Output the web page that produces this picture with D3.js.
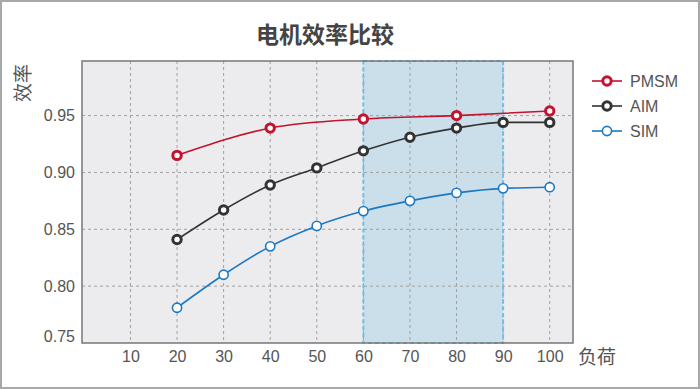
<!DOCTYPE html>
<html>
<head>
<meta charset="utf-8">
<script src="https://cdn.jsdelivr.net/npm/d3@7"></script>
<style>
  body { margin: 0; background: #fff; }
  svg { display: block; font-family: "Liberation Sans", Arial, sans-serif; }
  .tick text { fill: #555; }
  .grid line { stroke: #a0a0a0; stroke-dasharray: 3,3; }
</style>
</head>
<body>
<div id="chart"></div>
<script>
var loads = [10, 20, 30, 40, 50, 60, 70, 80, 90, 100];
var yTicks = [0.75, 0.80, 0.85, 0.90, 0.95];

var pmsmLoad = [20, 40, 60, 80, 100];
var pmsmEff = [0.915, 0.939, 0.947, 0.950, 0.954];
var aimLoad = [20, 30, 40, 50, 60, 70, 80, 90, 100];
var aimEff = [0.841, 0.867, 0.889, 0.904, 0.919, 0.931, 0.939, 0.944, 0.944];
var simLoad = [20, 30, 40, 50, 60, 70, 80, 90, 100];
var simEff = [0.781, 0.810, 0.835, 0.853, 0.866, 0.875, 0.882, 0.886, 0.887];

var band = [60, 90];

var series = [
  {name: "PMSM", load: pmsmLoad, eff: pmsmEff, color: "#c4122f", sw: 3},
  {name: "AIM", load: aimLoad, eff: aimEff, color: "#333333", sw: 3},
  {name: "SIM", load: simLoad, eff: simEff, color: "#1c78c4", sw: 1.6}
];

var width = 700, height = 389;
var plotL = 82, plotR = 573, plotT = 61, plotB = 343;

var svg = d3.select("#chart").append("svg").attr("width", width).attr("height", height);

// outer frame
svg.append("rect")
  .attr("x", 1).attr("y", 1).attr("width", width - 2).attr("height", height - 2)
  .attr("fill", "#fff").attr("stroke", "#a8a8a8").attr("stroke-width", 2);

var x = d3.scaleLinear().domain([-0.4, 105]).range([plotL, plotR]);
var y = d3.scaleLinear().domain([0.75, 0.998]).range([plotB, plotT]);

svg.append("rect")
  .attr("x", plotL).attr("y", plotT).attr("width", plotR - plotL).attr("height", plotB - plotT)
  .attr("fill", "#ececee");

// highlighted load range
svg.append("rect")
  .attr("x", x(band[0])).attr("y", plotT)
  .attr("width", x(band[1]) - x(band[0])).attr("height", plotB - plotT)
  .attr("fill", "#cadfe9");

// grid
svg.append("g").attr("class", "grid")
  .selectAll("line").data(loads).enter().append("line")
  .attr("x1", function(d) { return x(d); }).attr("x2", function(d) { return x(d); })
  .attr("y1", plotT).attr("y2", plotB);

svg.append("g").attr("class", "grid")
  .selectAll("line").data(yTicks.slice(1)).enter().append("line")
  .attr("x1", plotL).attr("x2", plotR)
  .attr("y1", function(d) { return y(d); }).attr("y2", function(d) { return y(d); });

svg.append("rect")
  .attr("x", x(band[0])).attr("y", plotT)
  .attr("width", x(band[1]) - x(band[0])).attr("height", plotB - plotT)
  .attr("fill", "none").attr("stroke", "#6cc0e8").attr("stroke-width", 2)
  .attr("stroke-dasharray", "4,3");

// plot frame
svg.append("rect")
  .attr("x", plotL).attr("y", plotT).attr("width", plotR - plotL).attr("height", plotB - plotT)
  .attr("fill", "none").attr("stroke", "#777").attr("stroke-width", 1.5);

// axes
var xAxis = svg.append("g")
  .attr("transform", "translate(0," + plotB + ")")
  .call(d3.axisBottom(x).tickValues(loads).tickSize(0).tickPadding(8));
xAxis.select(".domain").remove();
xAxis.selectAll("text").attr("font-size", "16px").attr("fill", "#555");

var yAxis = svg.append("g")
  .attr("transform", "translate(" + plotL + ",0)")
  .call(d3.axisLeft(y).tickValues(yTicks).tickFormat(d3.format(".2f")).tickSize(0).tickPadding(7));
yAxis.select(".domain").remove();
yAxis.selectAll("text").attr("font-size", "16px").attr("fill", "#555")
  .attr("dy", function(d) { return d === 0.75 ? "-0.1em" : "0.32em"; });

// lines and markers
var line = d3.line().curve(d3.curveMonotoneX);

series.forEach(function(s) {
  var pts = s.load.map(function(l, i) { return [x(l), y(s.eff[i])]; });
  svg.append("path")
    .attr("d", line(pts))
    .attr("fill", "none").attr("stroke", s.color).attr("stroke-width", 1.6);
  svg.append("g").selectAll("circle").data(pts).enter().append("circle")
    .attr("cx", function(d) { return d[0]; })
    .attr("cy", function(d) { return d[1]; })
    .attr("r", s.sw > 2 ? 4.2 : 4.6)
    .attr("fill", "#fff").attr("stroke", s.color).attr("stroke-width", s.sw);
});

// legend
var legend = svg.append("g").selectAll("g").data(series).enter().append("g")
  .attr("transform", function(d, i) { return "translate(592," + (81 + i * 25) + ")"; });
legend.append("line")
  .attr("x1", 0).attr("x2", 30).attr("y1", 0).attr("y2", 0)
  .attr("stroke", function(d) { return d.color; }).attr("stroke-width", 1.6);
legend.append("circle")
  .attr("cx", 15).attr("cy", 0)
  .attr("r", function(d) { return d.sw > 2 ? 4.2 : 4.6; })
  .attr("fill", "#fff")
  .attr("stroke", function(d) { return d.color; })
  .attr("stroke-width", function(d) { return d.sw; });
legend.append("text")
  .attr("x", 38).attr("y", 0).attr("dy", "0.35em")
  .attr("fill", "#555").attr("font-size", "16px")
  .text(function(d) { return d.name; });

// titles
svg.append("text")
  .attr("x", 325).attr("y", 35).attr("dy", "0.36em")
  .attr("text-anchor", "middle")
  .attr("font-family", "'Noto Sans CJK SC', sans-serif")
  .attr("font-weight", "bold").attr("font-size", "23px").attr("fill", "#444")
  .text("电机效率比较");

svg.append("text")
  .attr("transform", "translate(23,83) rotate(-90)")
  .attr("text-anchor", "middle").attr("dy", "0.36em")
  .attr("font-family", "'Noto Sans CJK SC', sans-serif")
  .attr("font-size", "19px").attr("fill", "#555")
  .text("效率");

svg.append("text")
  .attr("x", 578).attr("y", 357).attr("dy", "0.36em")
  .attr("font-family", "'Noto Sans CJK SC', sans-serif")
  .attr("font-size", "19px").attr("fill", "#555")
  .text("负荷");
</script>
</body>
</html>
